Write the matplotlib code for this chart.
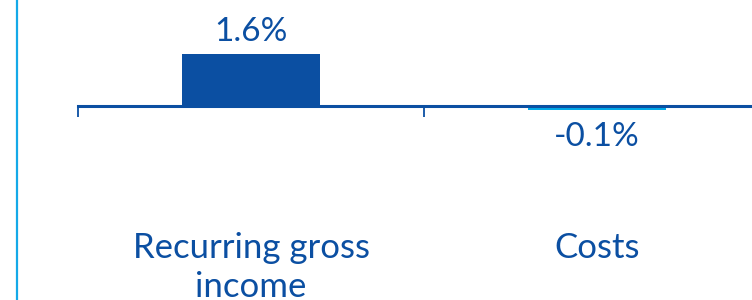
import matplotlib.pyplot as plt
from matplotlib.lines import Line2D

# data
categories = ["Recurring gross\nincome", "Costs"]
values = [1.6, -0.14]
bar_colors = ["#0b4fa2", "#00a9e8"]

dark_blue = "#0b4fa2"
light_blue = "#14a9e8"

plt.rcParams['font.family'] = ['Lato', 'DejaVu Sans']

fig = plt.figure(figsize=(7.52, 3.0), dpi=100)
# axes runs past the right edge of the picture (cropped chart)
ax = fig.add_axes([78/752, 1 - 138/300, 692/752, 90/300])

x = list(range(len(categories)))
ax.bar(x, values, width=0.4, color=bar_colors, zorder=2)

ax.set_xlim(-0.5, 1.5)
ax.set_ylim(-1, 1.8)

for s in ['top', 'right', 'left']:
    ax.spines[s].set_visible(False)
ax.spines['bottom'].set_position(('data', 0))
ax.spines['bottom'].set_color(dark_blue)
ax.spines['bottom'].set_linewidth(2.2)
ax.spines['bottom'].set_zorder(3)
ax.set_yticks([])

# tick marks between categories
ax.set_xticks([-0.5, 0.5, 1.5])
ax.set_xticklabels([])
ax.tick_params(axis='x', direction='out', length=8, width=1.3, color=dark_blue)

# value labels
for xi, v in zip(x, values):
    if v >= 0:
        off = 9.5
    else:
        off = -26
    ax.annotate(f"{v:.1f}%", (xi, v), xytext=(0, off), textcoords='offset points',
                ha='center', va='baseline', fontsize=24, color=dark_blue)

# category labels
for xi, c in zip(x, categories):
    ax.text(xi, -(232 - 106) / 32.2, c, ha='center', va='top', fontsize=25,
            color=dark_blue, linespacing=1.3, clip_on=False)

# vertical separator on the left
fig.add_artist(Line2D([17/752, 17/752], [0, 1], color=light_blue, linewidth=1.6,
                      transform=fig.transFigure))

fig.savefig("out.png", dpi=100)
